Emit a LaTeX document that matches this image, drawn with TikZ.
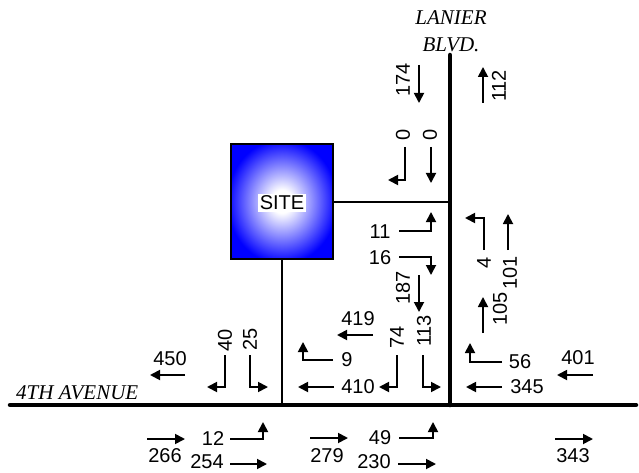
\documentclass[tikz,border=0pt]{standalone}
\usepackage{fontspec}
\setmainfont{Liberation Serif}
\setsansfont{Liberation Sans}
\usetikzlibrary{arrows.meta}
\pgfdeclareradialshading{sitefill}{\pgfpoint{0bp}{0bp}}{%
  color(0bp)=(white); color(5bp)=(white); color(27bp)=(blue); color(50bp)=(blue)}
\tikzset{
  road/.style={line width=4.5pt, line cap=round},
  link/.style={line width=2pt},
  vol/.style={-{Triangle[length=10pt, width=10pt]}, line width=1.8pt},
  num/.style={font=\sffamily\fontsize{20}{20}\selectfont, inner sep=0pt},
  vnum/.style={num, rotate=90},
  street/.style={font=\itshape\fontsize{21}{21}\selectfont, inner sep=0pt},
  site/.style={draw, line width=1.5pt, shading=sitefill,
    minimum width=102pt, minimum height=115pt},
}

\begin{document}
\begin{tikzpicture}[x=1pt, y=-1pt]
    \useasboundingbox (0,0) rectangle (639,473);
    % roads
    \coordinate (aveW) at (10,405);
    \coordinate (aveE) at (636,405);
    \coordinate (blvdN) at (450,55);
    \coordinate (blvdS) at (450,405);
    \draw[road] (aveW) -- (aveE);
    \draw[road] (blvdN) -- (blvdS);
    \node[street] (blvd1) at (451,18) {LANIER};
    \node[street] (blvd2) at (451,45) {BLVD.};
    \node[street, anchor=west] (ave) at (16,393) {4TH AVENUE};

    % site and driveways
    \node[site] (site) at (282,201.5) {};
    \node[num, fill=white, inner sep=2pt] (sitelbl) at (282,203) {SITE};
    \draw[link] (site.east) -- (site.east -| blvdS);
    \draw[link] (site.south) -- (site.south |- aveW);

    % north leg
    \node[vnum] (v174) at (403,80) {174};
    \draw[vol] (419,65) -- (419,103);
    \node[vnum] (v112) at (499,86) {112};
    \draw[vol] (483,103) -- (483,67);
    \node[vnum] (v0l) at (403,135) {0};
    \draw[vol] (405,147) -- (405,180) -- (388,180);
    \node[vnum] (v0r) at (430,135) {0};
    \draw[vol] (431,147) -- (431,183);

    % north driveway
    \node[num] (v11) at (380,232) {11};
    \draw[vol] (399,231) -- (431,231) -- (431,212);
    \node[num] (v16) at (380,258) {16};
    \draw[vol] (399,257) -- (431,257) -- (431,275);
    \node[vnum] (v187) at (403,288) {187};
    \draw[vol] (419,275) -- (419,312);
    \node[vnum] (v4) at (484,263) {4};
    \draw[vol] (484,250) -- (484,218) -- (465,218);
    \node[vnum] (v101) at (510,273) {101};
    \draw[vol] (508,250) -- (508,214);
    \node[vnum] (v105) at (500,309) {105};
    \draw[vol] (483,333) -- (483,297);

    % 4th avenue, north side
    \node[num] (v450) at (170,359) {450};
    \draw[vol] (185,375) -- (150,375);
    \node[vnum] (v40) at (225,340) {40};
    \draw[vol] (225,355) -- (225,387) -- (207,387);
    \node[vnum] (v25) at (250,339) {25};
    \draw[vol] (250,355) -- (250,387) -- (268,387);
    \node[num] (v419) at (358,319) {419};
    \draw[vol] (373,335) -- (337,335);
    \node[num] (v9) at (347,360) {9};
    \draw[vol] (333,360) -- (303,360) -- (303,342);
    \node[num] (v410) at (358,387) {410};
    \draw[vol] (334,387) -- (298,387);
    \node[vnum] (v74) at (397,337) {74};
    \draw[vol] (397,355) -- (397,387) -- (379,387);
    \node[vnum] (v113) at (424,331) {113};
    \draw[vol] (423,355) -- (423,387) -- (441,387);
    \node[num] (v56) at (520,362) {56};
    \draw[vol] (502,362) -- (470,362) -- (470,343);
    \node[num] (v345) at (527,387) {345};
    \draw[vol] (502,387) -- (466,387);
    \node[num] (v401) at (578,358) {401};
    \draw[vol] (593,375) -- (557,375);

    % 4th avenue, south side
    \node[num] (v266) at (165,456) {266};
    \draw[vol] (147,439) -- (185,439);
    \node[num] (v12) at (213,439) {12};
    \draw[vol] (230,439) -- (263,439) -- (263,422);
    \node[num] (v254) at (207,462) {254};
    \draw[vol] (230,464) -- (267,464);
    \node[num] (v279) at (327,456) {279};
    \draw[vol] (310,438) -- (348,438);
    \node[num] (v49) at (380,438) {49};
    \draw[vol] (399,438) -- (433,438) -- (433,422);
    \node[num] (v230) at (374,462) {230};
    \draw[vol] (398,464) -- (436,464);
    \node[num] (v343) at (573,456) {343};
    \draw[vol] (555,439) -- (593,439);
\end{tikzpicture}
\end{document}
